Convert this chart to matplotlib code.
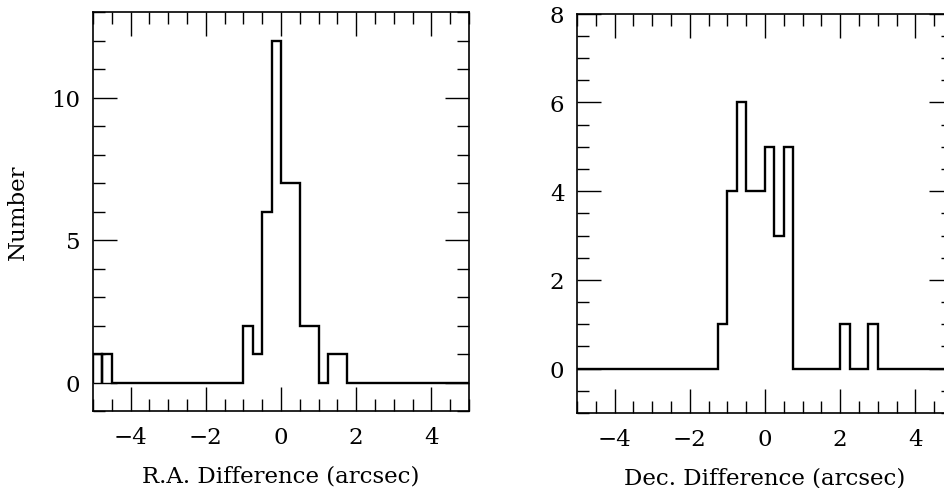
import matplotlib
matplotlib.use("Agg")
import matplotlib.pyplot as plt
from matplotlib.ticker import MultipleLocator

# R.A. difference histogram (arcsec)
ra_first_edges = [-5.0, -4.75]
ra_first_counts = [1]
ra_edges = [-4.75, -4.5, -1.0, -0.75, -0.5, -0.25, 0.0, 0.25, 0.5, 0.75, 1.0, 1.25, 1.5, 1.75, 5.0]
ra_counts = [1, 0, 2, 1, 6, 12, 7, 7, 2, 2, 0, 1, 1, 0]

# Dec. difference histogram (arcsec)
dec_edges = [-5.0, -1.25, -1.0, -0.75, -0.5, -0.25, 0.0, 0.25, 0.5, 0.75, 2.0, 2.25, 2.75, 3.0, 5.0]
dec_counts = [0, 1, 4, 6, 4, 4, 5, 3, 5, 0, 1, 0, 1, 0]

ra_yticks = [0, 5, 10]
dec_yticks = [0, 2, 4, 6, 8]
xticks = [-4, -2, 0, 2, 4]

plt.rcParams['font.family'] = ['DejaVu Serif']
plt.rcParams['font.size'] = 16.5

fig = plt.figure(figsize=(9.45, 4.89), dpi=100)
W, H = 945, 489

def pos(x0, y0, x1, y1):
    return [x0 / W, 1 - y1 / H, (x1 - x0) / W, (y1 - y0) / H]

ax1 = fig.add_axes(pos(93, 13, 469, 412))
ax2 = fig.add_axes(pos(577, 14.7, 953, 414))

lw = 1.7
ax1.stairs(ra_first_counts, ra_first_edges, baseline=0, color='black', linewidth=lw)
ax1.stairs(ra_counts, ra_edges, baseline=0, color='black', linewidth=lw)
ax2.stairs(dec_counts, dec_edges, baseline=0, color='black', linewidth=lw)

ax1.set_xlim(-5, 5)
ax1.set_ylim(-1, 13)
ax2.set_xlim(-5, 5)
ax2.set_ylim(-1, 8)

ax1.set_yticks(ra_yticks)
ax1.yaxis.set_minor_locator(MultipleLocator(1))
ax2.set_yticks(dec_yticks)
ax2.yaxis.set_minor_locator(MultipleLocator(0.5))
for ax in (ax1, ax2):
    ax.set_xticks(xticks)
    ax.xaxis.set_minor_locator(MultipleLocator(0.5))
    ax.tick_params(which='both', direction='in', top=True, right=True, width=1.0, colors='black')
    ax.tick_params(which='major', length=17)
    ax.tick_params(which='minor', length=8.5)
    ax.tick_params(axis='x', which='major', pad=11)
    ax.tick_params(axis='y', which='major', pad=9)
    for s in ax.spines.values():
        s.set_linewidth(1.2)

ax1.set_ylabel('Number', labelpad=16)
ax1.set_xlabel('R.A. Difference (arcsec)', labelpad=12)
ax2.set_xlabel('Dec. Difference (arcsec)', labelpad=12)

fig.savefig('out.png', dpi=100)
